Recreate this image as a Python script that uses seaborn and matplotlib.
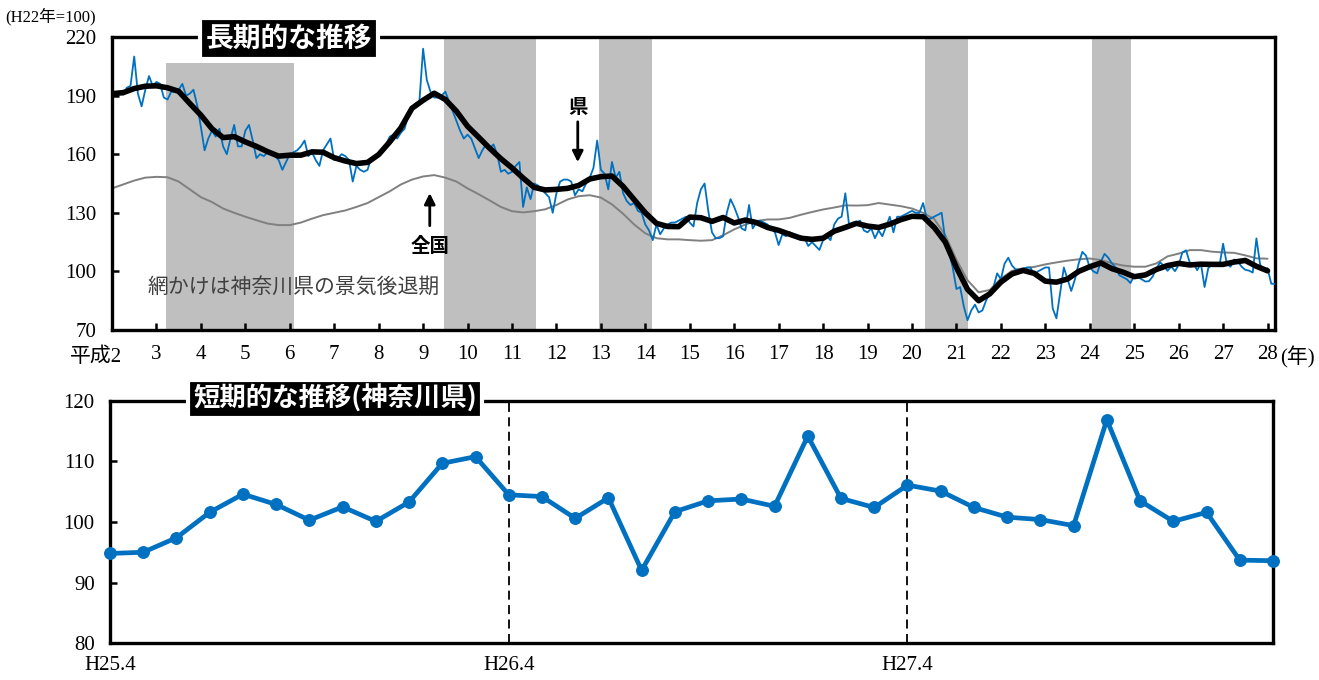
import numpy as np
import matplotlib
matplotlib.use("Agg")
import matplotlib.pyplot as plt
import seaborn as sns

# 神奈川県 景気動向 (H22年=100), monthly, H2.1 - H25.3
ken_monthly_early = [
    190, 191.5, 192, 190.5, 194, 195, 210, 191, 184.5, 193, 200, 195,   # H2
    197, 196, 189, 188, 192, 192, 193, 196, 190, 191, 193, 185,         # H3
    174, 162, 168, 172, 169, 173, 164, 160, 168, 175, 164, 164,         # H4
    172, 175, 167, 158, 160, 159, 161, 160, 159, 157, 152, 156,         # H5
    160, 161, 162, 164, 167, 159, 161, 157, 154, 162, 165, 168,         # H6
    157, 158, 160, 159, 157, 146, 154, 152, 151, 152, 158, 158,         # H7
    160, 162, 165, 169, 170, 168, 171, 173, 180, 184, 186, 187,         # H8
    214, 198, 192, 189, 189, 190, 192, 187, 182, 177, 172, 168,         # H9
    170, 168, 163, 158, 162, 165, 163, 165, 160, 151, 152, 150,         # H10
    151, 154, 156, 133, 143, 137, 145, 144, 142, 140, 138, 130,         # H11
    140, 146, 147, 147, 146, 139, 142, 141, 145, 148, 153, 167,         # H12
    152, 150, 142, 156, 148, 151, 140, 136, 134, 135, 131, 130,         # H13
    124, 121, 116, 124, 119, 122, 124, 125, 125, 126, 127, 128,         # H14
    125, 123, 135, 142, 145, 131, 120, 117, 117, 118, 130, 137,         # H15
    133, 128, 122, 121, 134, 122, 125, 126, 125, 124, 122, 120,         # H16
    113.5, 119, 118, 120, 119, 118, 118, 117, 113, 115, 113, 111,       # H17
    116, 118, 116, 124, 127, 128, 140, 124, 125, 125, 126, 121,         # H18
    120, 122, 117, 121, 118, 123, 128, 120, 128, 128, 129, 130,         # H19
    131, 130, 130, 135, 127, 127, 128, 129, 130, 116, 110, 102,         # H20
    91, 92, 82, 75, 80, 83, 79, 80, 85, 89, 92, 99,                     # H21
    96, 104, 107, 103, 101, 101, 101, 102, 102, 98, 100, 101,           # H22
    102, 102, 81, 76, 89, 102, 96, 90, 96, 104, 110, 108,               # H23
    102, 100, 99, 105, 109, 107, 104, 102, 98, 97, 96, 94,              # H24
    98, 97, 96,                                                         # H25.1-3
]

# short-term chart, H25.4 - H28.3
short_values = [
    94.8, 95.0, 97.4, 101.6, 104.6, 102.9, 100.3, 102.5, 100.1,
    103.3, 109.7, 110.8, 104.5, 104.2, 100.6, 104.0, 92.0, 101.7,
    103.5, 103.8, 102.6, 114.2, 103.9, 102.4, 106.1, 105.1, 102.4,
    100.8, 100.4, 99.4, 116.9, 103.5, 100.1, 101.6, 93.7, 93.6,
]
short_ticks = ["H25.4", "H26.4", "H27.4"]

# smoothed 県 line and 全国 line, every 3 months from H2.1 to H28.1
ken_trend = [
    191, 191.5, 193.6, 194.8, 195, 194, 192.2, 186, 180, 173, 168.5, 169,
    166.3, 164, 161.3, 159, 159.5, 159.5, 161.2, 161, 158.2, 156.5, 155.2, 155.8,
    159.8, 166.3, 173.5, 183.5, 187.6, 191.2, 188, 182, 174.3, 168.7, 163, 157.7,
    153, 147.8, 143, 141.7, 142, 142.5, 144, 147.3, 148.5, 148.8, 143.5, 136.7,
    130, 124.6, 123, 122.9, 127.8, 127.5, 125.6, 127.6, 124.8, 126.3, 125, 122.5,
    121, 119, 117, 116.4, 117, 120.6, 122.5, 124.6, 123.2, 122.5, 124.2, 126.5,
    128.2, 128, 122.5, 115, 102, 90.8, 85, 88.5, 94.5, 98.7, 100.5, 99,
    95, 94.5, 96.1, 100, 102.4, 104.3, 101.4, 99.6, 97.3, 98.2, 101, 103,
    104.1, 103.3, 103.7, 103.6, 103.6, 104.8, 105.6, 102.6, 100.3,
]
zenkoku_trend = [
    142.5, 144.5, 146.5, 148, 148.4, 148.2, 146, 142, 138, 135.5, 132.2, 130,
    128, 126.2, 124.5, 123.7, 123.7, 125, 127, 128.8, 130, 131.2, 133, 135,
    138, 141, 144.5, 147, 148.6, 149.3, 148, 146, 142.5, 139.5, 136.3, 133,
    130.8, 130.2, 130.8, 131.8, 134, 136.8, 138.5, 139, 137.8, 134.3, 129.5, 124,
    119.5, 117, 116.4, 116.4, 116, 115.7, 116, 118.5, 121.5, 124, 125.8, 126.6,
    126.6, 127.4, 129, 130.4, 131.7, 132.7, 133.8, 133.7, 133.9, 135, 134.2, 133.4,
    132.2, 130, 126.8, 118.5, 106, 95.5, 89.3, 90.5, 96.3, 100.3, 101.6, 102.3,
    103.6, 104.6, 105.5, 106.2, 106.6, 105.8, 104.2, 103, 102.4, 102.4, 104.1, 107.7,
    109.1, 110.9, 110.9, 110.1, 109.7, 109.5, 108.2, 106.7, 106.5,
]

# 景気後退期 (year positions)
rec_start = [3.21, 9.46, 12.96, 20.30, 24.04]
rec_end = [6.09, 11.53, 14.14, 21.27, 24.93]
year_ticks = list(range(3, 29))

ken_monthly = ken_monthly_early + short_values

sns.set_theme(style="white")
plt.rcParams["font.family"] = ["Liberation Serif", "Noto Sans CJK JP"]
for k in ["text.color", "axes.labelcolor", "xtick.color", "ytick.color", "axes.edgecolor"]:
    plt.rcParams[k] = "black"

BLUE = "#0070C0"
JP = ["Noto Sans CJK JP", "DejaVu Sans"]

fig = plt.figure(figsize=(13.19, 6.80), dpi=100)
ax1 = fig.add_axes([0.0849, 0.5147, 0.8817, 0.4309])
ax2 = fig.add_axes([0.0834, 0.0544, 0.8817, 0.3559])

# ---- long term ----
for n, (s, e) in enumerate(zip(rec_start, rec_end)):
    ax1.axvspan(s, e, ymax=0.912 if n == 0 else 1, color="#BFBFBF", lw=0, zorder=0)

x_month = 2 + np.arange(len(ken_monthly)) / 12
x_q = 2 + np.arange(len(ken_trend)) * 3 / 12
sns.lineplot(x=x_q, y=zenkoku_trend, ax=ax1, color="#808080", lw=1.4, zorder=2)
sns.lineplot(x=x_month, y=ken_monthly, ax=ax1, color=BLUE, lw=1.3, zorder=3)
sns.lineplot(x=x_q, y=ken_trend, ax=ax1, color="black", lw=4, zorder=4)

ax1.set_xlim(2, 2 + 314 / 12)
ax1.set_ylim(70, 220)
ax1.set_yticks(range(70, 221, 30))
ax1.set_xticks(year_ticks)
ax1.set_xticklabels([str(y) for y in year_ticks])
ax1.tick_params(axis="both", direction="in", length=5, width=1.8, labelsize=15,
                bottom=True, left=True)
ax1.tick_params(axis="x", pad=11)
ax1.tick_params(axis="y", pad=11)
ax1.set_xlabel("")
ax1.set_ylabel("")

ax1.text(2.80, 92, "網かけは神奈川県の景気後退期", fontsize=15, color="#404040",
         family=JP, ha="left", va="center", zorder=5)
ax1.annotate("", xy=(12.48, 154.5), xytext=(12.48, 178),
             arrowprops=dict(arrowstyle="-|>", lw=2, color="black", mutation_scale=16))
ax1.text(12.48, 184, "県", fontsize=14, fontweight="bold", family=JP,
         ha="center", va="center")
ax1.annotate("", xy=(9.15, 141.5), xytext=(9.15, 122),
             arrowprops=dict(arrowstyle="-|>", lw=2, color="black", mutation_scale=16))
ax1.text(9.15, 112.5, "全国", fontsize=14, fontweight="bold", family=JP,
         ha="center", va="center")

# ---- short term ----
idx = np.arange(len(short_values))
sns.lineplot(x=idx, y=short_values, ax=ax2, color=BLUE, lw=3.4, marker="o",
             markersize=8.5, markeredgecolor=BLUE, zorder=4)
for ln in ax2.lines:
    ln.set_clip_on(False)
for p in (12, 24):
    ax2.axvline(p, color="black", ls=(0, (5, 3)), lw=1.3, zorder=2)

ax2.set_xlim(0, len(short_values) - 1)
ax2.set_ylim(80, 120)
ax2.set_yticks(range(80, 121, 10))
ax2.set_xticks([0, 12, 24])
ax2.set_xticklabels(short_ticks)
ax2.tick_params(axis="y", direction="in", length=5, width=1.8, labelsize=15,
                left=True, pad=11)
ax2.tick_params(axis="x", length=0, labelsize=15, pad=9)
ax2.set_xlabel("")
ax2.set_ylabel("")

for ax in (ax1, ax2):
    for sp in ax.spines.values():
        sp.set_visible(True)
        sp.set_color("black")
        sp.set_linewidth(2.4)

W, H = 1319, 680
fig.text(289 / W, 1 - 38.5 / H, "長期的な推移", fontsize=20, fontweight="bold",
         color="white", family=JP, ha="center", va="center",
         bbox=dict(boxstyle="square,pad=0.22", fc="black", ec="white", lw=3))
fig.text(335 / W, 1 - 399 / H, "短期的な推移(神奈川県)", fontsize=19, fontweight="bold",
         color="white", family=JP, ha="center", va="center",
         bbox=dict(boxstyle="square,pad=0.2", fc="black", ec="white", lw=3))
fig.text(5 / W, 1 - 17 / H, "(H22年=100)", fontsize=12, ha="left", va="center")
fig.text(122 / W, 1 - 357 / H, "平成2", fontsize=15, ha="right", va="center")
fig.text(1280 / W, 1 - 357 / H, "(年)", fontsize=15, ha="left", va="center")

fig.savefig("out.png", dpi=100)
